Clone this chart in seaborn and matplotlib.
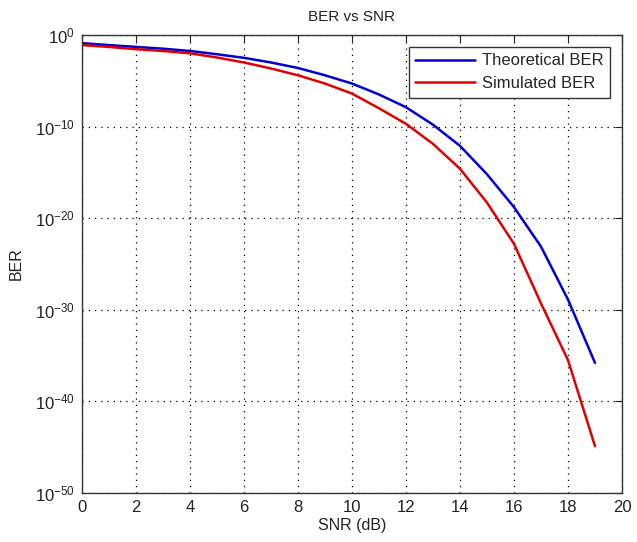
import numpy as np
import pandas as pd
import matplotlib
matplotlib.use("Agg")
import matplotlib.pyplot as plt
import matplotlib.ticker as mticker
import seaborn as sns

snr_db = [0, 1, 2, 3, 4, 5, 6, 7, 8, 9, 10, 11, 12, 13, 14, 15, 16, 17, 18, 19]
theoretical_ber = [1.3e-1, 7.9e-2, 5.0e-2, 3.2e-2, 1.8e-2, 7.9e-3, 3.2e-3, 1.0e-3,
                   2.5e-4, 4.0e-5, 5.0e-6, 3.2e-7, 1.3e-8, 1.6e-10, 7.9e-13,
                   6.3e-16, 1.6e-19, 7.9e-24, 1.3e-29, 1.6e-36]
simulated_ber = [7.9e-2, 5.0e-2, 2.8e-2, 1.8e-2, 1.0e-2, 3.5e-3, 1.0e-3, 2.2e-4,
                 4.0e-5, 5.0e-6, 4.0e-7, 1.0e-8, 2.0e-10, 1.3e-12, 2.5e-15,
                 5.0e-19, 1.6e-23, 5.0e-30, 3.2e-36, 1.3e-45]
series_names = ["Theoretical BER", "Simulated BER"]
series_colors = ["#0000d0", "#e00000"]
ytick_values = [1e-50, 1e-40, 1e-30, 1e-20, 1e-10, 1e0]
xtick_values = [0, 2, 4, 6, 8, 10, 12, 14, 16, 18, 20]

df = pd.DataFrame({
    "SNR": snr_db * 2,
    "BER": theoretical_ber + simulated_ber,
    "Series": [series_names[0]] * len(snr_db) + [series_names[1]] * len(snr_db),
})

sns.set_style("white")
plt.rcParams["font.family"] = ["Liberation Sans", "DejaVu Sans"]
plt.rcParams["mathtext.fontset"] = "custom"
plt.rcParams["mathtext.rm"] = "Liberation Sans"
plt.rcParams["mathtext.it"] = "Liberation Sans"
plt.rcParams["mathtext.default"] = "regular"

fig = plt.figure(figsize=(6.37, 5.42), dpi=100)
ax = fig.add_axes([82/637, 49/542, 540/637, 458/542])

sns.lineplot(data=df, x="SNR", y="BER", hue="Series", palette=series_colors,
             hue_order=series_names, linewidth=1.8, ax=ax)

ax.set_yscale("log")
ax.set_xlim(0, 20)
ax.set_ylim(1e-50, 1e0)
ax.set_xticks(xtick_values)
ax.set_yticks(ytick_values)
ax.yaxis.set_minor_locator(mticker.NullLocator())
ax.yaxis.set_major_formatter(mticker.FuncFormatter(
    lambda v, p: r"$10^{%d}$" % int(round(np.log10(v)))))

ax.grid(True, which="major", linestyle=(0, (1, 4)), color="black", linewidth=0.9)
ax.tick_params(direction="in", length=5, width=0.8, top=True, right=True,
               labelsize=12, colors="#222222", pad=5)
for s in ax.spines.values():
    s.set_color("#333333")
    s.set_linewidth(1.0)

ax.set_title("BER vs SNR", fontsize=11, color="#222222", pad=10)
ax.set_xlabel("SNR (dB)", fontsize=11.5, color="#222222", labelpad=2)
ax.set_ylabel("BER", fontsize=11.5, color="#222222", labelpad=8)

leg = ax.legend(loc="upper right", fontsize=12, frameon=True, fancybox=False,
                edgecolor="#333333", framealpha=1, handlelength=3.6,
                handletextpad=0.4, borderaxespad=0.7, borderpad=0.4,
                labelspacing=0.45)
leg.get_frame().set_linewidth(1.0)

fig.savefig("out.png", dpi=100, facecolor="white")
